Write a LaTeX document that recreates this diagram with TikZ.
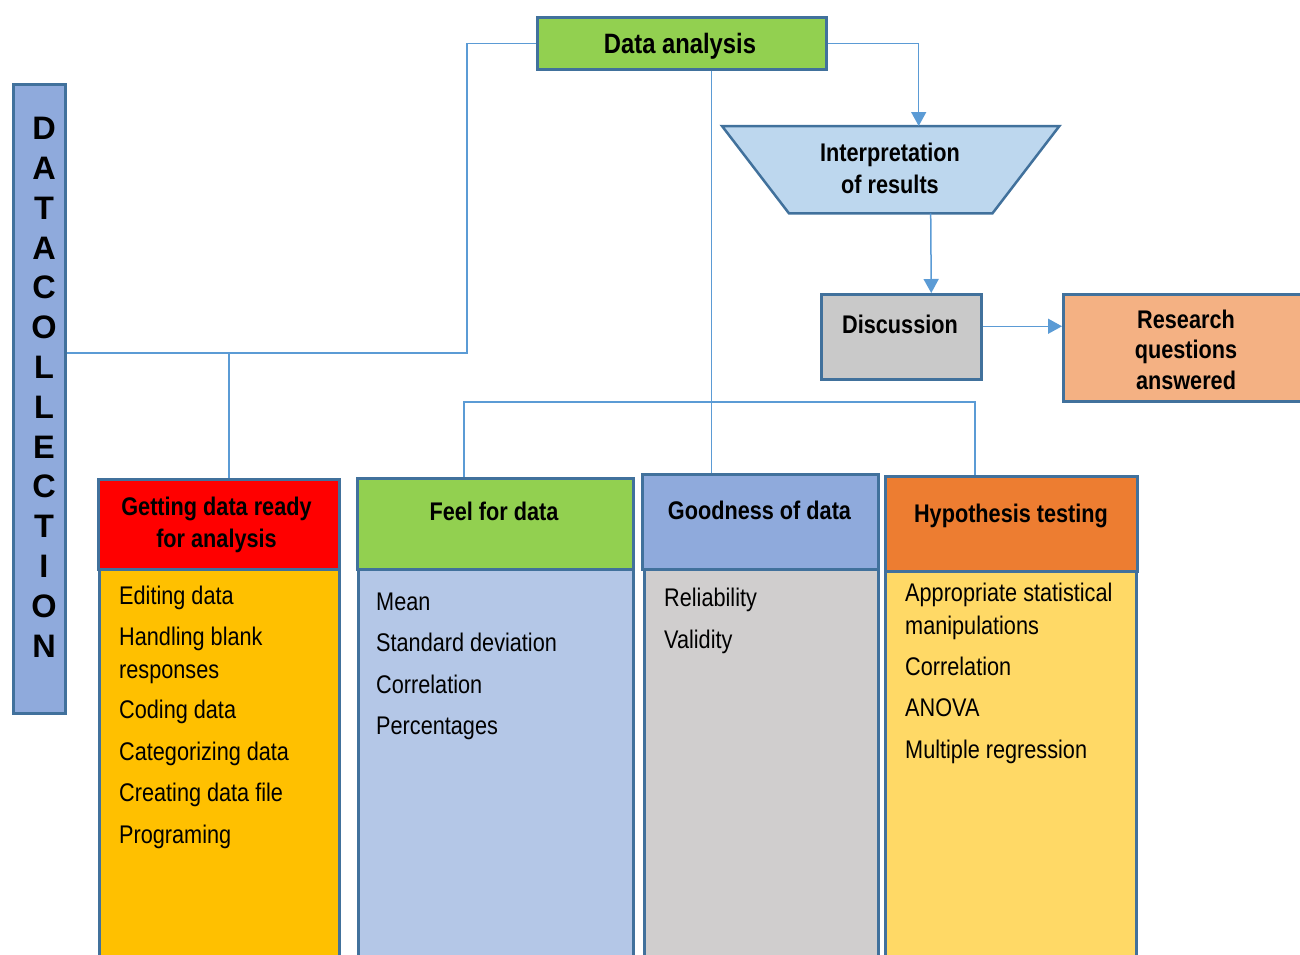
\documentclass[tikz,border=0pt]{standalone}
\usepackage{fontspec}
\setmainfont{Liberation Sans}[FakeStretch=0.85]
\newfontfamily\dcfont{Liberation Sans}
\usetikzlibrary{arrows.meta}

\definecolor{edgeblue}{HTML}{41719C}
\definecolor{linkblue}{HTML}{5B9BD5}
\definecolor{leafgreen}{HTML}{92D050}
\definecolor{skyfill}{HTML}{BDD7EE}
\definecolor{greyfill}{HTML}{C9C9C9}
\definecolor{peach}{HTML}{F4B183}
\definecolor{amber}{HTML}{FFC000}
\definecolor{paleblue}{HTML}{B4C7E7}
\definecolor{midblue}{HTML}{8FAADC}
\definecolor{lightgrey}{HTML}{D0CECE}
\definecolor{burnt}{HTML}{ED7D31}
\definecolor{sand}{HTML}{FFD966}

\newcommand\txtsize{\fontsize{25.5pt}{31pt}\selectfont}

\tikzset{
  panel/.style={rectangle, draw=edgeblue, line width=2.5pt, inner sep=0pt,
                anchor=north west},
  hdtext/.style={font=\txtsize\bfseries, inner sep=0pt, anchor=base},
  itemtext/.style={font=\txtsize, inner sep=0pt, anchor=base west},
  conn/.style={draw=linkblue, line width=1.5pt},
  arr/.style={conn, -{Triangle[width=15pt,length=14pt]}},
}

\begin{document}
\begin{tikzpicture}[x=1pt,y=-1pt]
\useasboundingbox (0,0) rectangle (1300,954);
\clip (0,0) rectangle (1300,954);

% ---- vertical "data collection" bar
\node[panel, fill=midblue, minimum width=52pt, minimum height=629pt] (dc) at (12,83) {};
\foreach \ch [count=\i from 0] in {D,A,T,A,C,O,L,L,E,C,T,I,O,N}{
  \node[font=\dcfont\fontsize{32.5pt}{36pt}\selectfont\bfseries, inner sep=0pt, anchor=base]
    (dc-\i) at (44,139.6+39.8*\i) {\ch};
}

% ---- top flow
\node[panel, fill=leafgreen, minimum width=289pt, minimum height=52pt] (da) at (536,16) {};
\node[hdtext, font=\fontsize{28pt}{32pt}\selectfont\bfseries] (da-t) at (680,53) {Data analysis};

% inverted trapezoid, with a frame node of the same extent for the connectors
\node[rectangle, inner sep=0pt, minimum width=337pt, minimum height=87pt,
      anchor=north west] (interp) at (722,126) {};
\filldraw[draw=edgeblue, fill=skyfill, line width=2.5pt, line join=miter]
  (interp.north west) -- (interp.north east)
  -- ([xshift=-67pt]interp.south east) -- ([xshift=67pt]interp.south west) -- cycle;
\node[hdtext] (interp-t1) at (890,161) {Interpretation};
\node[hdtext] (interp-t2) at (890,193) {of results};

\node[panel, fill=greyfill, minimum width=160pt, minimum height=85pt] (disc) at (820,293) {};
\node[hdtext] (disc-t) at (900,333) {Discussion};

\node[panel, fill=peach, minimum width=240pt, minimum height=107pt] (research) at (1062,293) {};
\node[hdtext] (research-t1) at (1186,328) {Research};
\node[hdtext] (research-t2) at (1186,358.5) {questions};
\node[hdtext] (research-t3) at (1186,389) {answered};

% ---- column bodies
\node[panel, fill=amber, minimum width=240pt, minimum height=400pt] (ready-b) at (98,568) {};
\node[panel, fill=paleblue, minimum width=275pt, minimum height=400pt] (feel-b) at (357,568) {};
\node[panel, fill=lightgrey, minimum width=234pt, minimum height=400pt] (good-b) at (643,568) {};
\node[panel, fill=sand, minimum width=251pt, minimum height=400pt] (hyp-b) at (884,570) {};

% ---- column headers
\node[panel, fill=red, minimum width=241pt, minimum height=90pt] (ready) at (97,478) {};
\node[panel, fill=leafgreen, minimum width=276pt, minimum height=91pt] (feel) at (356,477) {};
\node[panel, fill=midblue, minimum width=236pt, minimum height=95pt] (good) at (641,473) {};
\node[panel, fill=burnt, minimum width=252pt, minimum height=95pt] (hyp) at (884,475) {};

\node[hdtext] (ready-t1) at (216.5,515) {Getting data ready};
\node[hdtext] (ready-t2) at (216.5,547) {for analysis};
\node[hdtext] (feel-t) at (494,520) {Feel for data};
\node[hdtext] (good-t) at (759.5,519) {Goodness of data};
\node[hdtext] (hyp-t) at (1011,522) {Hypothesis testing};

% ---- column items
\foreach \txt/\y [count=\i] in {Editing data/604, Handling blank/645, responses/678,
    Coding data/718, Categorizing data/760, Creating data file/801, Programing/843}
  \node[itemtext] (ready-i\i) at (119,\y) {\txt};
\foreach \txt/\y [count=\i] in {Mean/610, Standard deviation/651, Correlation/693, Percentages/734}
  \node[itemtext] (feel-i\i) at (376,\y) {\txt};
\foreach \txt/\y [count=\i] in {Reliability/606, Validity/648}
  \node[itemtext] (good-i\i) at (664,\y) {\txt};
\foreach \txt/\y [count=\i] in {Appropriate statistical/601, manipulations/634, Correlation/675,
    ANOVA/716, Multiple regression/758}
  \node[itemtext] (hyp-i\i) at (905,\y) {\txt};

% ---- connectors
\coordinate (j1) at (467,353);
\coordinate (j2) at (229,353);
\draw[conn] (da.west) -| (j1) -- (j1 -| dc.east);
\draw[conn] (j2) -- (j2 |- ready.north);

\path ([xshift=29.5pt]da.south) coordinate (dav);
\draw[conn] (dav) -- (dav |- good.north);

\coordinate (busL) at (464,402);
\coordinate (busR) at (975,402);
\draw[conn] (busL |- feel.north) -- (busL) -- (busR) -- (busR |- hyp.north);

\draw[arr] (da.east) -| ([xshift=28pt]interp.north);
\draw[arr] ([xshift=40pt]interp.south) -- ([xshift=30pt]disc.north);
\path ([yshift=10.5pt]disc.east) coordinate (dre);
\draw[arr] (dre) -- (dre -| research.west);
\end{tikzpicture}
\end{document}
